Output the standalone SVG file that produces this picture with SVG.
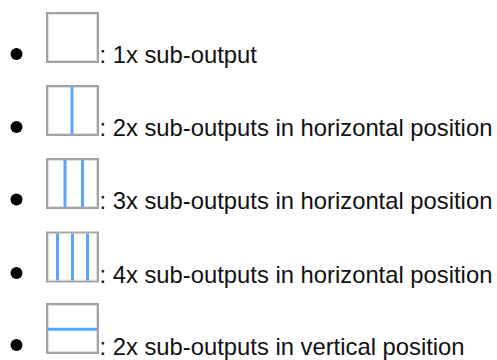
<svg xmlns="http://www.w3.org/2000/svg" width="497" height="360" viewBox="0 0 497 360">
<style>
.bg{fill:#ffffff}
.bullet{fill:#000000}
.box{fill:#ffffff;stroke:#a3a3a3;stroke-width:2}
.inner{fill:none;stroke:#e0e0e0;stroke-width:1}
.div{stroke:#5aa6ff;stroke-width:3}
.lbl{font-family:"Liberation Sans",Arial,sans-serif;font-size:23.8px;fill:#111111}
</style>
<rect class="bg" x="0" y="0" width="497" height="360"/>
<g id="item1">
<circle class="bullet" cx="16.5" cy="54" r="6"/>
<rect class="box" x="47" y="13" width="51" height="49"/>
<rect class="inner" x="48.5" y="14.5" width="48" height="46"/>
<text class="lbl" x="99.5" y="63">: 1x sub-output</text>
</g>
<g id="item2">
<circle class="bullet" cx="16.5" cy="127" r="6"/>
<rect class="box" x="47" y="86" width="51" height="49"/>
<rect class="inner" x="48.5" y="87.5" width="48" height="46"/>
<line class="div" x1="72" y1="87" x2="72" y2="134"/>
<text class="lbl" x="99.5" y="136">: 2x sub-outputs in horizontal position</text>
</g>
<g id="item3">
<circle class="bullet" cx="16.5" cy="199.5" r="6"/>
<rect class="box" x="47" y="159" width="51" height="49"/>
<rect class="inner" x="48.5" y="160.5" width="48" height="46"/>
<line class="div" x1="65" y1="160" x2="65" y2="207"/>
<line class="div" x1="82.5" y1="160" x2="82.5" y2="207"/>
<text class="lbl" x="99.5" y="209">: 3x sub-outputs in horizontal position</text>
</g>
<g id="item4">
<circle class="bullet" cx="16.5" cy="273" r="6"/>
<rect class="box" x="47" y="232.5" width="51" height="49"/>
<rect class="inner" x="48.5" y="234" width="48" height="46"/>
<line class="div" x1="57.5" y1="233.5" x2="57.5" y2="280.5"/>
<line class="div" x1="72.5" y1="233.5" x2="72.5" y2="280.5"/>
<line class="div" x1="87.5" y1="233.5" x2="87.5" y2="280.5"/>
<text class="lbl" x="99.5" y="282.5">: 4x sub-outputs in horizontal position</text>
</g>
<g id="item5">
<circle class="bullet" cx="16.5" cy="345" r="6"/>
<rect class="box" x="47" y="304" width="51" height="49"/>
<rect class="inner" x="48.5" y="305.5" width="48" height="46"/>
<line class="div" x1="48" y1="329.3" x2="97" y2="329.3"/>
<text class="lbl" x="99.5" y="354.5">: 2x sub-outputs in vertical position</text>
</g>
<g id="connectors"/>
</svg>
